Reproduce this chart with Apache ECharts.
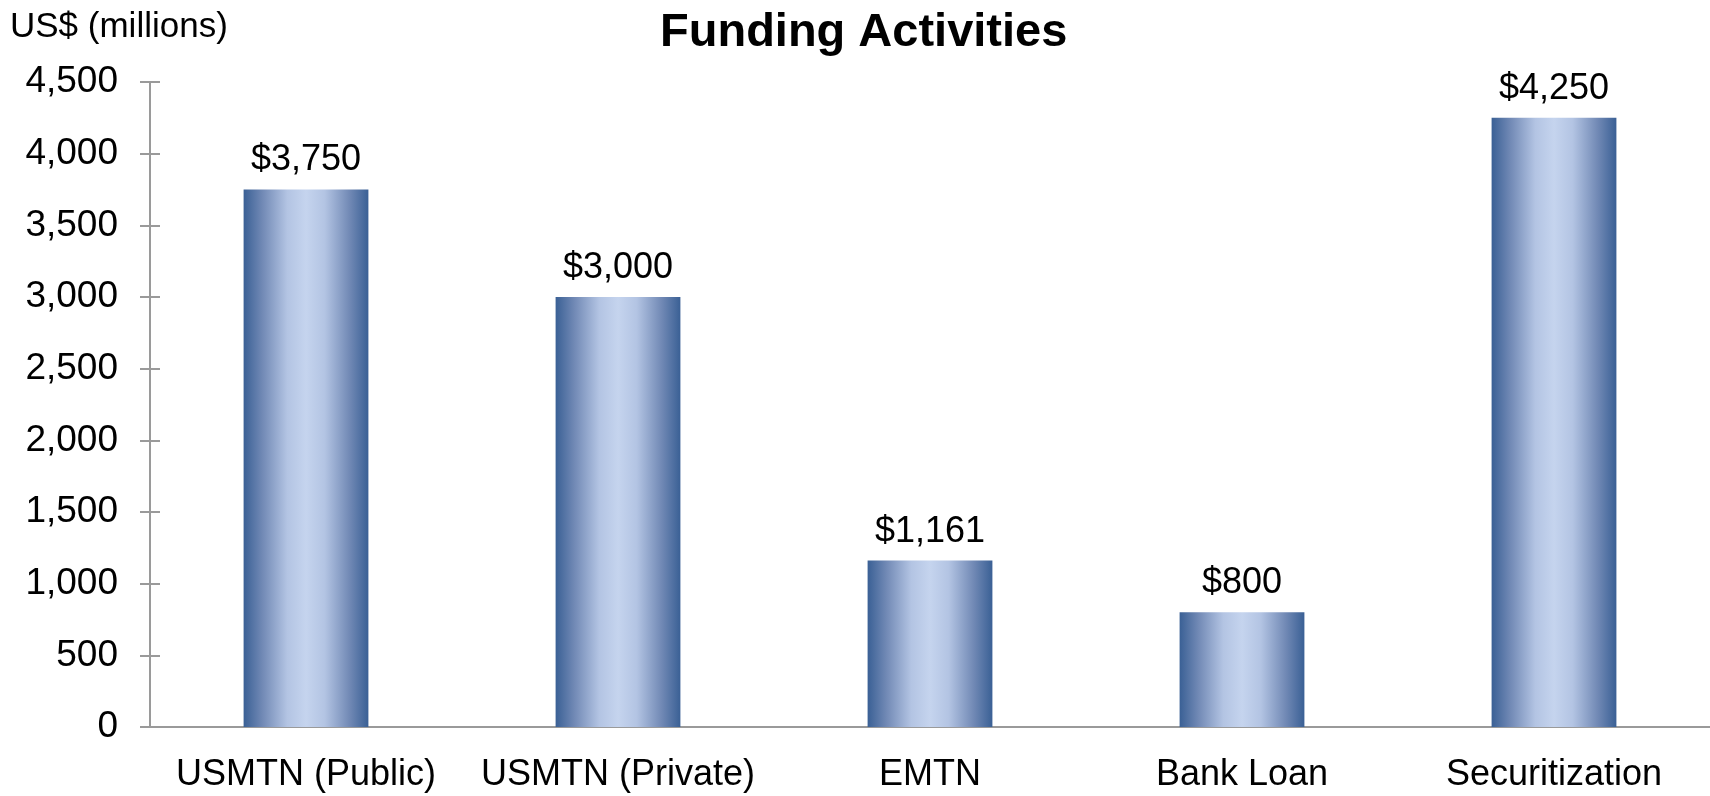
<!DOCTYPE html>
<html>
<head>
<meta charset="utf-8">
<script src="https://cdn.jsdelivr.net/npm/echarts@6/dist/echarts.min.js"></script>
<style>
  html, body { margin: 0; padding: 0; background: #fff; }
  #chart { width: 1710px; height: 796px; }
</style>
</head>
<body>
<div id="chart"></div>
<script>
var categories = ["USMTN (Public)", "USMTN (Private)", "EMTN", "Bank Loan", "Securitization"];
var funding = [3750, 3000, 1161, 800, 4250];
var yTicks = [0, 500, 1000, 1500, 2000, 2500, 3000, 3500, 4000, 4500];

var font = "'Liberation Sans', Arial, sans-serif";
var axisGray = "#9a9a9a";

function commas(v) {
  return String(v).replace(/\B(?=(\d{3})+(?!\d))/g, ",");
}

var chart = echarts.init(document.getElementById("chart"));

// gradient across the bar width, dark edges and light middle
var barFill = new echarts.graphic.LinearGradient(0, 0, 1, 0, [
  { offset: 0, color: "#3a6095" },
  { offset: 0.15, color: "#7189b5" },
  { offset: 0.35, color: "#b3c4e3" },
  { offset: 0.5, color: "#c5d4ee" },
  { offset: 0.65, color: "#b3c4e3" },
  { offset: 0.85, color: "#7189b5" },
  { offset: 1, color: "#3a6095" }
]);

var option = {
  animation: false,
  textStyle: { fontFamily: font },
  title: [
    {
      text: "Funding Activities",
      left: 655,
      top: 5,
      textStyle: { fontFamily: font, fontSize: 47, fontWeight: "bold", color: "#000" }
    },
    {
      text: "US$ (millions)",
      left: 5,
      top: 5,
      textStyle: { fontFamily: font, fontSize: 35, fontWeight: "normal", color: "#000" }
    }
  ],
  grid: { left: 150, right: 0, top: 82, bottom: 69, containLabel: false },
  xAxis: {
    type: "category",
    data: categories,
    axisLine: { show: true, lineStyle: { color: axisGray, width: 2 } },
    axisTick: { show: false },
    axisLabel: { color: "#000", fontSize: 36, fontFamily: font, margin: 30, interval: 0 }
  },
  yAxis: [
    {
      type: "value",
      min: yTicks[0],
      max: yTicks[yTicks.length - 1],
      interval: 500,
      splitLine: { show: false },
      axisLine: { show: true, lineStyle: { color: axisGray, width: 2 } },
      axisTick: { show: true, length: 10, lineStyle: { color: axisGray, width: 2 } },
      axisLabel: {
        color: "#000", fontSize: 37, fontFamily: font, margin: 32,
        formatter: function (v) { return commas(v); }
      }
    },
    {
      // second axis only to draw the inner half of the cross ticks
      type: "value",
      position: "left",
      min: yTicks[0],
      max: yTicks[yTicks.length - 1],
      interval: 500,
      splitLine: { show: false },
      axisLine: { show: false },
      axisTick: { show: true, inside: true, length: 10, lineStyle: { color: axisGray, width: 2 } },
      axisLabel: { show: false }
    }
  ],
  series: [
    {
      type: "bar",
      data: funding,
      barWidth: "40%",
      itemStyle: { color: barFill },
      label: {
        show: true,
        position: "top",
        distance: 11,
        color: "#000",
        fontSize: 36,
        fontFamily: font,
        formatter: function (p) { return "$" + commas(p.value); }
      }
    }
  ]
};

chart.setOption(option);
</script>
</body>
</html>
